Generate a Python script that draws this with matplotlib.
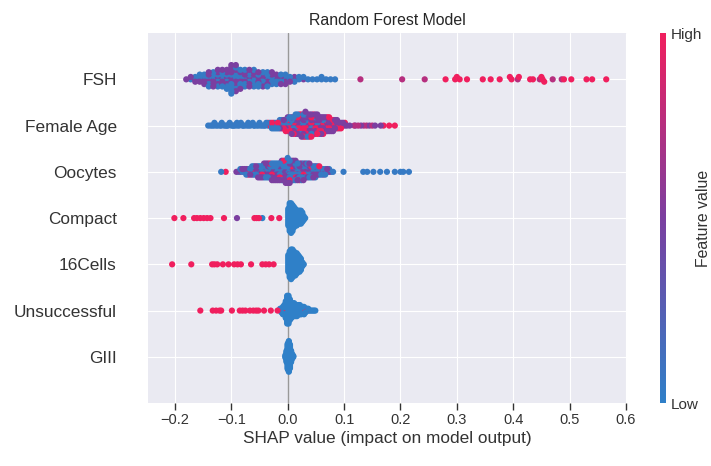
import numpy as np
import matplotlib
matplotlib.use("Agg")
import matplotlib.pyplot as plt
import seaborn as sns
from matplotlib.colors import LinearSegmentedColormap
from matplotlib.cm import ScalarMappable

# feature names, top row first
features = ["FSH", "Female Age", "Oocytes", "Compact", "16Cells", "Unsuccessful", "GIII"]

# feature value levels used for colouring (0 = low, 1 = high)
LOW, MID, MAG, HIGH = 0.05, 0.5, 0.75, 1.0

# SHAP values, in thousandths.
# dense parts: positions with the number of low / mid / high points stacked there
fsh_x = [-180, -172, -164, -156, -148, -140, -132, -124, -116, -108, -100, -92, -84, -76, -68,
         -60, -52, -44, -36, -28, -20, -12, -4, 4, 12, 20, 28, 36, 44, 52, 60, 68, 76, 84]
fsh_n_low = [0, 1, 1, 2, 2, 3, 3, 4, 4, 4, 7, 6, 5, 4, 4, 5, 4, 4, 4, 4, 3, 3, 2, 2, 2, 2, 1,
             1, 1, 1, 2, 1, 1, 1]
fsh_n_mid = [1, 1, 2, 2, 3, 4, 4, 4, 4, 5, 6, 6, 4, 4, 4, 3, 3, 3, 3, 2, 2, 2, 2, 1, 1, 0, 1,
             0, 0, 0, 0, 0, 0, 0]
fsh_mag = [129, 203, 243, 408, 447, 470, 486]
fsh_high = [-2, 280, 297, 300, 305, 318, 346, 360, 376, 394, 397, 410, 430, 435, 450, 452, 455,
            490, 503, 530, 540, 565]

fage_x = [-35, -31.5, -28, -24.5, -21, -17.5, -14, -10.5, -7, -3.5, 0, 3.5, 7, 10.5, 14, 17.5,
          21, 24.5, 28, 31.5, 35, 38.5, 42, 45.5, 49, 52.5, 56, 59.5, 63, 66.5, 70, 73.5, 77,
          80.5, 84, 87.5, 91, 94.5, 98, 101.5, 105]
fage_n_low = [1, 1, 2, 2, 2, 2, 2, 2, 2, 2, 2, 2, 2, 2, 3, 2, 2, 3, 2, 3, 2, 2, 2, 1, 1, 1, 1,
              0, 1, 0, 0, 0, 0, 0, 0, 0, 0, 0, 0, 0, 0]
fage_n_mid = [0, 0, 0, 1, 0, 0, 1, 1, 1, 1, 2, 2, 3, 3, 3, 3, 3, 3, 4, 4, 4, 4, 4, 4, 4, 4, 4,
              4, 4, 4, 4, 4, 4, 3, 3, 3, 2, 2, 2, 1, 1]
fage_n_high = [1, 1, 1, 0, 1, 1, 1, 1, 1, 2, 2, 2, 2, 2, 2, 3, 3, 3, 3, 3, 3, 3, 3, 3, 3, 3, 2,
               3, 2, 2, 2, 2, 1, 2, 1, 1, 1, 1, 0, 1, 0]
fage_low = [-141, -137, -134, -131, -130, -127, -124, -120, -118, -117, -113, -110, -108, -106,
            -103, -100, -97, -96, -93, -90, -89, -86, -83, -80, -79, -76, -72, -70, -69, -66,
            -62, -60, -59, -55, -52, -50, -48, -45, -42, -40, -38]
fage_mid = [110, 120, 130, 145, 155, 165]
fage_mag = [118, 125, 135, 140, 150]
fage_high = [170, 180, 190]

ooc_x = [-91, -87.5, -84, -80.5, -77, -73.5, -70, -66.5, -63, -59.5, -56, -52.5, -49, -45.5,
         -42, -38.5, -35, -31.5, -28, -24.5, -21, -17.5, -14, -10.5, -7, -3.5, 0, 3.5, 7, 10.5,
         14, 17.5, 21, 24.5, 28, 31.5, 35, 38.5, 42, 45.5, 49, 52.5, 56, 59.5, 63, 66.5, 70,
         73.5, 77, 80.5]
ooc_n_low = [0, 1, 1, 1, 0, 1, 1, 2, 2, 1, 2, 2, 2, 2, 3, 3, 2, 3, 3, 3, 3, 3, 3, 4, 3, 4, 5,
             4, 4, 3, 4, 3, 3, 4, 3, 3, 3, 3, 3, 2, 3, 2, 2, 2, 2, 2, 1, 1, 1, 1]
ooc_n_mid = [1, 0, 1, 1, 1, 2, 1, 1, 2, 2, 2, 2, 3, 2, 3, 2, 4, 2, 3, 4, 3, 4, 3, 3, 4, 4, 4,
             4, 3, 4, 3, 3, 3, 3, 3, 3, 2, 3, 1, 3, 1, 2, 1, 1, 1, 1, 1, 1, 0, 0]
ooc_n_high = [0, 0, 0, 0, 1, 0, 1, 0, 0, 1, 0, 1, 0, 1, 0, 1, 0, 1, 1, 0, 1, 0, 1, 1, 1, 1, 1,
              1, 1, 1, 1, 1, 1, 0, 1, 0, 1, 0, 1, 0, 1, 0, 1, 0, 0, 0, 0, 0, 0, 0]
ooc_low = [-118, 99, 134, 141, 152, 164, 176, 190, 200, 205, 215]
ooc_high = [-110]

compact_high = [-201, -185, -166, -161, -155, -149, -143, -137, -113, -59, -55, -51, -29, -15]
compact_mid = [-90]
compact_low = [-45]
compact_blob_x = [1, 3.5, 6, 8.5, 11, 13.5, 16, 18.5, 21, 23.5, 26, 28.5, 31]
compact_blob_n = [10, 16, 17, 15, 12, 10, 9, 8, 8, 8, 6, 3, 1]

c16_high = [-205, -171, -134, -130, -125, -115, -105, -95, -89, -83, -65, -45, -39, -33, -25]
c16_blob_x = [1, 3.5, 6, 8.5, 11, 13.5, 16, 18.5, 21, 23.5, 26, 28.5]
c16_blob_n = [10, 15, 17, 16, 14, 13, 12, 10, 9, 7, 3, 1]

uns_high = [-155, -133, -127, -121, -118, -99, -85, -80, -75, -67, -61, -56, -52, -42, -30, -18,
            -9, 28, 32]
uns_blob_x = [-13.5, -11, -8.5, -6, -3.5, -1, 1.5, 4, 6.5, 9, 11.5, 14, 16.5, 19, 21.5, 24, 26.5,
              29, 31.5, 34, 36.5, 39, 41.5, 44, 46.5, 49]
uns_blob_n = [2, 3, 4, 6, 10, 16, 16, 12, 9, 8, 8, 7, 7, 6, 6, 5, 4, 4, 3, 2, 2, 1, 1, 1, 1, 1]

g3_blob_x = [-4, -2, 0, 2, 4, 6, 8, 10]
g3_blob_n = [4, 14, 30, 36, 28, 14, 6, 2]


def build(groups):
    xs = np.concatenate([np.asarray(g, float) for g, _ in groups]) / 1000.0
    cs = np.concatenate([np.full(len(g), c) for g, c in groups])
    return xs, cs


rows = [
    build([(np.repeat(fsh_x, fsh_n_low), LOW), (np.repeat(fsh_x, fsh_n_mid), MID),
           (fsh_mag, MAG), (fsh_high, HIGH)]),
    build([(np.repeat(fage_x, fage_n_low), LOW), (np.repeat(fage_x, fage_n_mid), MID),
           (np.repeat(fage_x, fage_n_high), HIGH), (fage_low, LOW), (fage_mid, MID),
           (fage_mag, MAG), (fage_high, HIGH)]),
    build([(np.repeat(ooc_x, ooc_n_low), LOW), (np.repeat(ooc_x, ooc_n_mid), MID),
           (np.repeat(ooc_x, ooc_n_high), HIGH), (ooc_low, LOW), (ooc_high, HIGH)]),
    build([(np.repeat(compact_blob_x, compact_blob_n), 0.0), (compact_low, 0.0),
           (compact_mid, MID), (compact_high, HIGH)]),
    build([(np.repeat(c16_blob_x, c16_blob_n), 0.0), (c16_high, HIGH)]),
    build([(np.repeat(uns_blob_x, uns_blob_n), 0.0), (uns_high, HIGH)]),
    build([(np.repeat(g3_blob_x, g3_blob_n), 0.0)]),
]


def swarm_offsets(xs, nbins=100, row_height=0.4):
    # same stacking rule as the shap beeswarm; a fixed index scramble
    # stands in for shap's random tie-break inside a bin
    scramble = (np.arange(len(xs)) * 2654435761) % 4294967296
    quant = np.round(nbins * (xs - xs.min()) / (xs.max() - xs.min() + 1e-8))
    order = np.lexsort((scramble, quant))
    ys = np.zeros(len(xs))
    layer, last = 0, None
    for i in order:
        if quant[i] != last:
            layer = 0
        ys[i] = np.ceil(layer / 2) * ((layer % 2) * 2 - 1)
        layer += 1
        last = quant[i]
    ys *= 0.9 * (row_height / np.max(ys + 1))
    return ys, np.argsort(scramble)


sns.set_style("darkgrid")
plt.rcParams["font.family"] = ["Liberation Sans", "DejaVu Sans"]

cmap = LinearSegmentedColormap.from_list("red_blue", ["#2F80C8", "#7B3FA0", "#F01F5E"])

fig = plt.figure(figsize=(7.11, 4.66), dpi=100)
ax = fig.add_axes([0.208, 0.135, 0.674, 0.794])

ax.axvline(0, color="#999999", lw=1, zorder=1)
n_feat = len(features)
for k, (xs, cs) in enumerate(rows):
    pos = n_feat - 1 - k
    ys, draw = swarm_offsets(xs)
    ax.scatter(xs[draw], pos + ys[draw], c=cs[draw], cmap=cmap, vmin=0, vmax=1,
               s=20, linewidth=0, alpha=1, zorder=3)

ax.set_xlim(-0.248, 0.602)
ax.set_ylim(-1, n_feat)
ax.set_yticks(range(n_feat))
ax.set_yticklabels(features[::-1], fontsize=12.4)
ax.set_xticks(np.arange(-0.2, 0.61, 0.1))
ax.xaxis.set_ticks_position("bottom")
ax.yaxis.set_ticks_position("none")
ax.tick_params("y", length=19, width=0.5, labelcolor="#333333")
ax.tick_params("x", labelsize=10.5, length=5, width=1, color="#333333",
               labelcolor="#333333", pad=2)
for sp in ax.spines.values():
    sp.set_visible(False)
ax.set_xlabel("SHAP value (impact on model output)", fontsize=12.4, color="#333333", labelpad=3)
ax.set_title("Random Forest Model", fontsize=11.4, color=".15")

cax = fig.add_axes([0.928, 0.135, 0.0084, 0.794])
sm = ScalarMappable(cmap=cmap)
sm.set_array([0, 1])
cb = fig.colorbar(sm, cax=cax, ticks=[0, 1])
cb.set_ticklabels(["Low", "High"])
cb.ax.tick_params(labelsize=11, length=0, labelcolor="#333333")
cb.outline.set_visible(False)
fig.text(703 / 711, 0.532, "Feature value", rotation=90, ha="center", va="center",
         fontsize=11.4, color="#333333")

fig.savefig("out.png", dpi=100)
